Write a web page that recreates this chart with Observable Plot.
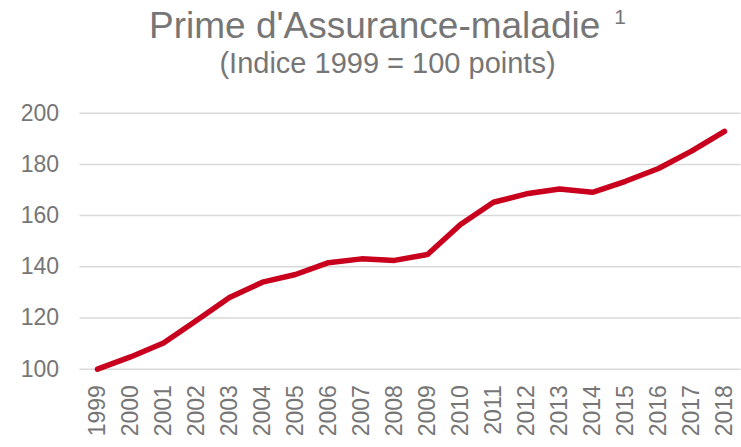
<!DOCTYPE html>
<html>
<head>
<meta charset="utf-8">
<script src="https://cdn.jsdelivr.net/npm/d3@7"></script>
<script src="https://cdn.jsdelivr.net/npm/@observablehq/plot@0.6"></script>
<style>
  html, body { margin: 0; padding: 0; background: #fff; }
  #wrap { position: relative; width: 741px; height: 447px; font-family: "Liberation Sans", Arial, sans-serif; color: #767676; overflow: hidden; }
  #title { position: absolute; left: 0; width: 741px; padding-left: 34px; box-sizing: border-box; text-align: center; top: 7px; font-size: 37px; line-height: 37px; white-space: nowrap; }
  #title sup { font-size: 21px; line-height: 0; vertical-align: 0; position: relative; top: -14px; margin-left: 14px; }
  #subtitle { position: absolute; left: 0; width: 741px; padding-left: 34px; box-sizing: border-box; text-align: center; top: 49px; font-size: 29px; line-height: 29px; white-space: nowrap; }
  #chart { position: absolute; left: 0; top: 80px; }
</style>
</head>
<body>
<div id="wrap">
  <div id="title">Prime d'Assurance-maladie<sup>1</sup></div>
  <div id="subtitle">(Indice 1999 = 100 points)</div>
  <div id="chart"></div>
</div>
<script>
const years = ["1999","2000","2001","2002","2003","2004","2005","2006","2007","2008","2009","2010","2011","2012","2013","2014","2015","2016","2017","2018"];
const values = [100, 104.8, 110.2, 119, 128, 134, 137, 141.6, 143.1, 142.5, 144.8, 156.5, 165.2, 168.5, 170.4, 169.1, 173.4, 178.4, 185.2, 192.9];
const yTicks = [100, 120, 140, 160, 180, 200];

const data = years.map((y, i) => ({year: y, value: values[i]}));

const chart = Plot.plot({
  width: 741,
  height: 367,
  marginLeft: 79.5,
  marginRight: 0.5,
  marginTop: 32.7,
  marginBottom: 78.3,
  style: {fontFamily: "'Liberation Sans', Arial, sans-serif", fontSize: "23px", color: "#767676", background: "transparent"},
  x: {type: "point", domain: years, padding: 0.5, label: null},
  y: {domain: [100, 200], ticks: yTicks, label: null},
  marks: [
    Plot.ruleY(yTicks, {stroke: "#d9d9d9", strokeWidth: 1.5}),
    Plot.axisY({ticks: yTicks, tickSize: 0, tickPadding: 21, fontSize: 23, fill: "#767676", label: null}),
    Plot.axisX({tickSize: 0, tickPadding: 16, tickRotate: -90, fontSize: 23, fill: "#767676", label: null}),
    Plot.line(data, {x: "year", y: "value", stroke: "#c8001e", strokeWidth: 5.5, strokeLinecap: "round", strokeLinejoin: "round"})
  ]
});
document.getElementById("chart").appendChild(chart);
</script>
</body>
</html>
